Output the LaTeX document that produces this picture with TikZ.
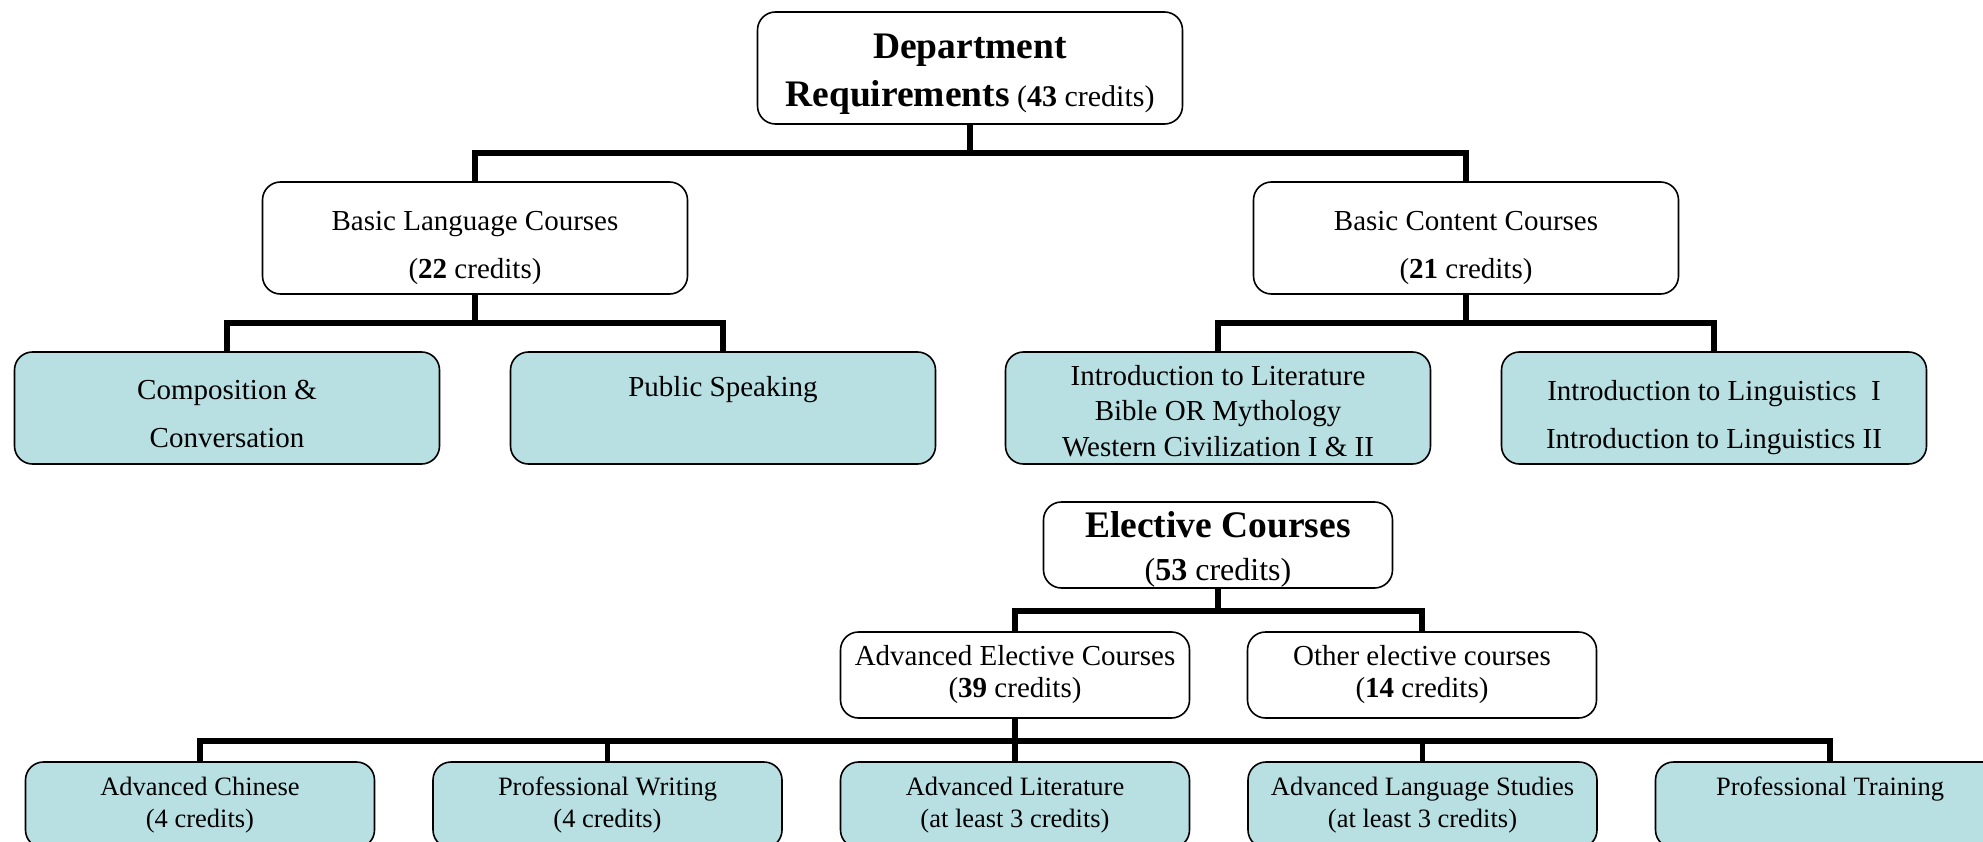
\documentclass[tikz,border=0pt]{standalone}
\usepackage{fontspec}
\setmainfont{Liberation Serif}
\usepackage{tikz}
\usetikzlibrary{positioning}
\definecolor{leafblue}{RGB}{184,223,226}
\newcommand{\bighead}[1]{{\fontsize{37.5}{48}\selectfont\bfseries #1}}
\newcommand{\sink}[1]{\rule{0pt}{#1}}

\begin{document}
\begin{tikzpicture}[x=1pt,y=-1pt,
  head/.style = {draw, rounded corners=18pt, line width=1.6pt, fill=white, align=center, inner sep=0pt, font=\fontsize{29}{48}\selectfont},
  leaf/.style = {head, fill=leafblue},
  big/.style = {minimum width=425pt, minimum height=112pt},
  small/.style = {minimum width=349pt, minimum height=86pt, font=\fontsize{29}{32}\selectfont},
  bottom/.style = {leaf, small, font=\fontsize{26.5}{32}\selectfont},
  bus/.style = {line width=5.5pt},
  node distance={496pt}]
\useasboundingbox (0,0) rectangle (1983,842);
\clip (0,0) rectangle (1983,842);
% department requirements
\node[head,big] (dept) at (970,68) {\sink{36pt}\bighead{Department}\\\bighead{Requirements} {\fontsize{30}{48}\selectfont(\textbf{43} credits)}};
\node[head,big] (lang) at (475,238) {\sink{40pt}Basic Language Courses\\(\textbf{22} credits)};
\node[head,big] (content) [right of=lang, node distance=991pt] {\sink{40pt}Basic Content Courses\\(\textbf{21} credits)};
\node[leaf,big] (comp) at (227,408) {\sink{32pt}Composition \&\\Conversation};
\node[leaf,big] (speak) [right of=comp] {\sink{32pt}Public Speaking\\\phantom{Cg}};
\node[leaf,big,font=\fontsize{29}{35.5}\selectfont] (lit) at (1218,408) {\sink{26pt}Introduction to Literature\\Bible OR Mythology\\Western Civilization I \& II};
\node[leaf,big] (ling) [right of=lit] {\sink{40pt}Introduction to Linguistics~~I\\Introduction to Linguistics II};
% elective courses
\node[head,small,font=\fontsize{32}{43}\selectfont] (elec) at (1218,545) {\sink{34pt}\bighead{Elective Courses}\\(\textbf{53} credits)};
\node[head,small] (adv) at (1015,675) {Advanced Elective Courses\\(\textbf{39} credits)};
\node[head,small] (other) [right of=adv, node distance=407pt] {Other elective courses\\(\textbf{14} credits)};
\node[bottom] (chin) at (200,805) {Advanced Chinese\\(4 credits)};
\node[bottom] (write) [right of=chin, node distance=407.5pt] {Professional Writing\\(4 credits)};
\node[bottom] (advlit) [right of=write, node distance=407.5pt] {Advanced Literature\\(at least 3 credits)};
\node[bottom] (advlang) [right of=advlit, node distance=407.5pt] {Advanced Language Studies\\(at least 3 credits)};
\node[bottom] (train) [right of=advlang, node distance=407.5pt] {Professional Training\\\phantom{(g}};
\draw[bus] (dept.south) -- ++(0,28) -| (lang.north);
\draw[bus] (dept.south) -- ++(0,28) -| (content.north);
\draw[bus] (lang.south) -- ++(0,28) -| (comp.north);
\draw[bus] (lang.south) -- ++(0,28) -| (speak.north);
\draw[bus] (content.south) -- ++(0,28) -| (lit.north);
\draw[bus] (content.south) -- ++(0,28) -| (ling.north);
\draw[bus] (elec.south) -- ++(0,22) -| (adv.north);
\draw[bus] (elec.south) -- ++(0,22) -| (other.north);
\draw[bus] (adv.south) -- ++(0,22) -| (chin.north);
\draw[bus] (adv.south) -- ++(0,22) -| (write.north);
\draw[bus] (adv.south) -- ++(0,22) -| (advlit.north);
\draw[bus] (adv.south) -- ++(0,22) -| (advlang.north);
\draw[bus] (adv.south) -- ++(0,22) -| (train.north);
\end{tikzpicture}
\end{document}
